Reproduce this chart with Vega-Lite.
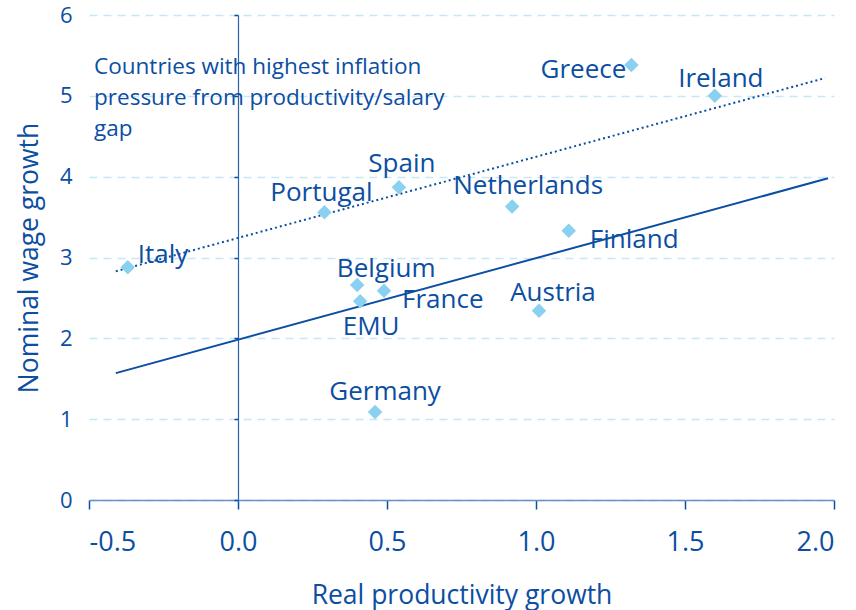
{
  "$schema": "https://vega.github.io/schema/vega-lite/v6.json",
  "width": 745,
  "height": 485,
  "autosize": "none",
  "padding": {"left": 89, "top": 15, "right": 22, "bottom": 110},
  "background": "white",
  "config": {"view": {"stroke": null}, "font": "Open Sans", "text": {"font": "Open Sans"}},
  "datasets": {
    "countries": [
      {"country": "Italy", "productivity": -0.37, "wage": 2.88},
      {"country": "Portugal", "productivity": 0.29, "wage": 3.56},
      {"country": "Spain", "productivity": 0.54, "wage": 3.87},
      {"country": "Netherlands", "productivity": 0.92, "wage": 3.63},
      {"country": "Finland", "productivity": 1.11, "wage": 3.33},
      {"country": "Greece", "productivity": 1.32, "wage": 5.38},
      {"country": "Ireland", "productivity": 1.6, "wage": 5.0},
      {"country": "Belgium", "productivity": 0.4, "wage": 2.66},
      {"country": "France", "productivity": 0.49, "wage": 2.59},
      {"country": "EMU", "productivity": 0.41, "wage": 2.46},
      {"country": "Austria", "productivity": 1.01, "wage": 2.34},
      {"country": "Germany", "productivity": 0.46, "wage": 1.09}
    ],
    "fits": [
      {"fit": "all", "productivity": -0.41, "wage": 1.57},
      {"fit": "all", "productivity": 1.98, "wage": 3.98},
      {"fit": "high", "productivity": -0.41, "wage": 2.83},
      {"fit": "high", "productivity": 1.97, "wage": 5.22}
    ]
  },
  "resolve": {"axis": {"y": "independent"}},
  "layer": [
    {
      "data": {"name": "fits"},
      "transform": [{"filter": "datum.fit === 'all'"}],
      "mark": {"type": "line", "color": "#0b4ea2", "strokeWidth": 2},
      "encoding": {
        "x": {"field": "productivity", "type": "quantitative", "scale": {"domain": [-0.5, 2.0], "nice": false, "zero": false},
          "axis": {"values": [-0.5, 0, 0.5, 1.0, 1.5, 2.0], "labelExpr": "datum.value < 0 ? '-' + format(-datum.value, '.1f') : format(datum.value, '.1f')", "grid": false, "domainColor": "#6b8fc8", "domainWidth": 1.5, "tickColor": "#0b4ea2", "tickSize": 9, "tickWidth": 1.5, "labelColor": "#0b4ea2", "labelFont": "Open Sans", "labelFontSize": 27, "labelPadding": 20, "title": "Real productivity growth", "titleColor": "#0b4ea2", "titleFont": "Open Sans", "titleFontSize": 26.5, "titleFontWeight": "normal", "titlePadding": 27}},
        "y": {"field": "wage", "type": "quantitative", "scale": {"domain": [0, 6], "nice": false},
          "axis": {"values": [0, 1, 2, 3, 4, 5, 6], "grid": true, "gridColor": "#c5e7f7", "gridDash": [8, 6], "gridWidth": 1.5, "domain": false, "ticks": false, "labelColor": "#0b4ea2", "labelFont": "Open Sans", "labelFontSize": 22, "labelPadding": 17, "title": "Nominal wage growth", "titleColor": "#0b4ea2", "titleFont": "Open Sans", "titleFontSize": 26.5, "titleFontWeight": "normal", "titlePadding": 16}}
      }
    },
    {
      "data": {"name": "fits"},
      "transform": [{"filter": "datum.fit === 'high'"}],
      "mark": {"type": "line", "color": "#0b4ea2", "strokeWidth": 2, "strokeDash": [2, 3]},
      "encoding": {
        "x": {"field": "productivity", "type": "quantitative"},
        "y": {"field": "wage", "type": "quantitative",
          "axis": {"orient": "left", "offset": -149, "values": [0, 1, 2, 3, 4, 5, 6], "labels": false, "grid": false, "title": null, "domain": true, "domainColor": "#2b62b0", "domainWidth": 1.2, "ticks": true, "tickSize": 4, "tickColor": "#0b4ea2", "tickWidth": 1.5}}
      }
    },
    {
      "data": {"name": "countries"},
      "mark": {"type": "point", "shape": "diamond", "filled": true, "color": "#8ad0f0", "opacity": 1, "size": 210},
      "encoding": {
        "x": {"field": "productivity", "type": "quantitative"},
        "y": {"field": "wage", "type": "quantitative", "axis": null}
      }
    },
    {
      "data": {"name": "countries"},
      "transform": [{"filter": "datum.country === 'Italy'"}],
      "mark": {"type": "text", "align": "left", "baseline": "middle", "dx": 10, "dy": -12, "fontSize": 26, "color": "#0b4ea2"},
      "encoding": {"x": {"field": "productivity", "type": "quantitative"}, "y": {"field": "wage", "type": "quantitative", "axis": null}, "text": {"field": "country"}}
    },
    {
      "data": {"name": "countries"},
      "transform": [{"filter": "datum.country === 'Portugal'"}],
      "mark": {"type": "text", "align": "center", "baseline": "middle", "dx": -3, "dy": -19, "fontSize": 26, "color": "#0b4ea2"},
      "encoding": {"x": {"field": "productivity", "type": "quantitative"}, "y": {"field": "wage", "type": "quantitative", "axis": null}, "text": {"field": "country"}}
    },
    {
      "data": {"name": "countries"},
      "transform": [{"filter": "datum.country === 'Spain'"}],
      "mark": {"type": "text", "align": "center", "baseline": "middle", "dx": 3, "dy": -23, "fontSize": 26, "color": "#0b4ea2"},
      "encoding": {"x": {"field": "productivity", "type": "quantitative"}, "y": {"field": "wage", "type": "quantitative", "axis": null}, "text": {"field": "country"}}
    },
    {
      "data": {"name": "countries"},
      "transform": [{"filter": "datum.country === 'Netherlands'"}],
      "mark": {"type": "text", "align": "center", "baseline": "middle", "dx": 16, "dy": -21, "fontSize": 26, "color": "#0b4ea2"},
      "encoding": {"x": {"field": "productivity", "type": "quantitative"}, "y": {"field": "wage", "type": "quantitative", "axis": null}, "text": {"field": "country"}}
    },
    {
      "data": {"name": "countries"},
      "transform": [{"filter": "datum.country === 'Finland'"}],
      "mark": {"type": "text", "align": "left", "baseline": "middle", "dx": 21, "dy": 9, "fontSize": 26, "color": "#0b4ea2"},
      "encoding": {"x": {"field": "productivity", "type": "quantitative"}, "y": {"field": "wage", "type": "quantitative", "axis": null}, "text": {"field": "country"}}
    },
    {
      "data": {"name": "countries"},
      "transform": [{"filter": "datum.country === 'Greece'"}],
      "mark": {"type": "text", "align": "right", "baseline": "middle", "dx": -5, "dy": 5, "fontSize": 26, "color": "#0b4ea2"},
      "encoding": {"x": {"field": "productivity", "type": "quantitative"}, "y": {"field": "wage", "type": "quantitative", "axis": null}, "text": {"field": "country"}}
    },
    {
      "data": {"name": "countries"},
      "transform": [{"filter": "datum.country === 'Ireland'"}],
      "mark": {"type": "text", "align": "center", "baseline": "middle", "dx": 6, "dy": -17, "fontSize": 26, "color": "#0b4ea2"},
      "encoding": {"x": {"field": "productivity", "type": "quantitative"}, "y": {"field": "wage", "type": "quantitative", "axis": null}, "text": {"field": "country"}}
    },
    {
      "data": {"name": "countries"},
      "transform": [{"filter": "datum.country === 'Belgium'"}],
      "mark": {"type": "text", "align": "center", "baseline": "middle", "dx": 29, "dy": -16, "fontSize": 26, "color": "#0b4ea2"},
      "encoding": {"x": {"field": "productivity", "type": "quantitative"}, "y": {"field": "wage", "type": "quantitative", "axis": null}, "text": {"field": "country"}}
    },
    {
      "data": {"name": "countries"},
      "transform": [{"filter": "datum.country === 'France'"}],
      "mark": {"type": "text", "align": "left", "baseline": "middle", "dx": 18, "dy": 9, "fontSize": 26, "color": "#0b4ea2"},
      "encoding": {"x": {"field": "productivity", "type": "quantitative"}, "y": {"field": "wage", "type": "quantitative", "axis": null}, "text": {"field": "country"}}
    },
    {
      "data": {"name": "countries"},
      "transform": [{"filter": "datum.country === 'EMU'"}],
      "mark": {"type": "text", "align": "center", "baseline": "middle", "dx": 11, "dy": 26, "fontSize": 26, "color": "#0b4ea2"},
      "encoding": {"x": {"field": "productivity", "type": "quantitative"}, "y": {"field": "wage", "type": "quantitative", "axis": null}, "text": {"field": "country"}}
    },
    {
      "data": {"name": "countries"},
      "transform": [{"filter": "datum.country === 'Austria'"}],
      "mark": {"type": "text", "align": "center", "baseline": "middle", "dx": 14, "dy": -18, "fontSize": 26, "color": "#0b4ea2"},
      "encoding": {"x": {"field": "productivity", "type": "quantitative"}, "y": {"field": "wage", "type": "quantitative", "axis": null}, "text": {"field": "country"}}
    },
    {
      "data": {"name": "countries"},
      "transform": [{"filter": "datum.country === 'Germany'"}],
      "mark": {"type": "text", "align": "center", "baseline": "middle", "dx": 10, "dy": -20, "fontSize": 26, "color": "#0b4ea2"},
      "encoding": {"x": {"field": "productivity", "type": "quantitative"}, "y": {"field": "wage", "type": "quantitative", "axis": null}, "text": {"field": "country"}}
    },
    {
      "data": {"values": [{"note": ["Countries with highest inflation", "pressure from productivity/salary", "gap"]}]},
      "mark": {"type": "text", "align": "left", "baseline": "alphabetic", "fontSize": 22.5, "lineHeight": 31, "color": "#0b4ea2"},
      "encoding": {"x": {"datum": -0.483}, "y": {"datum": 5.27, "axis": null}, "text": {"field": "note"}}
    }
  ]
}
